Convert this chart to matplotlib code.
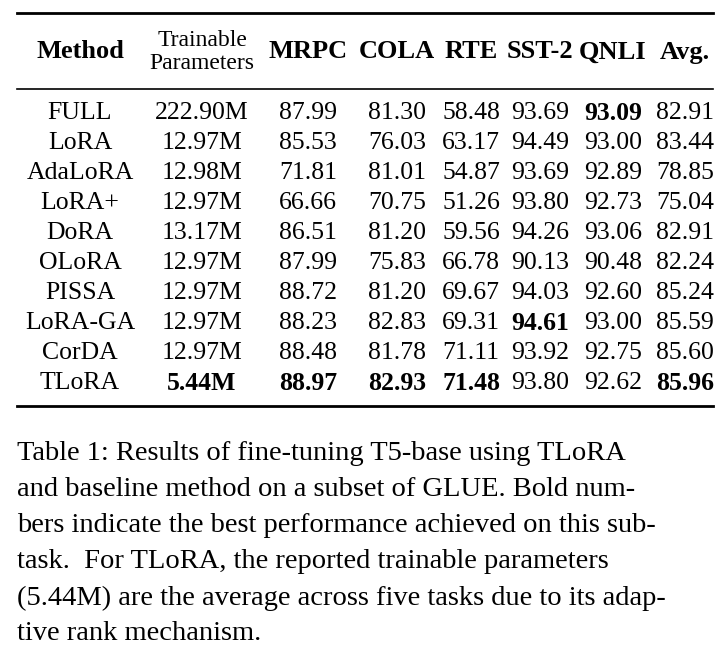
# GLUE results table
import matplotlib.pyplot as plt

plt.rcParams["font.family"] = "Liberation Serif"

cols = ["MRPC", "COLA", "RTE", "SST-2", "QNLI", "Avg."]
rows = [
    ("FULL", "222.90M", [87.99, 81.30, 58.48, 93.69, 93.09, 82.91]),
    ("LoRA", "12.97M", [85.53, 76.03, 63.17, 94.49, 93.00, 83.44]),
    ("AdaLoRA", "12.98M", [71.81, 81.01, 54.87, 93.69, 92.89, 78.85]),
    ("LoRA+", "12.97M", [66.66, 70.75, 51.26, 93.80, 92.73, 75.04]),
    ("DoRA", "13.17M", [86.51, 81.20, 59.56, 94.26, 93.06, 82.91]),
    ("OLoRA", "12.97M", [87.99, 75.83, 66.78, 90.13, 90.48, 82.24]),
    ("PISSA", "12.97M", [88.72, 81.20, 69.67, 94.03, 92.60, 85.24]),
    ("LoRA-GA", "12.97M", [88.23, 82.83, 69.31, 94.61, 93.00, 85.59]),
    ("CorDA", "12.97M", [88.48, 81.78, 71.11, 93.92, 92.75, 85.60]),
    ("TLoRA", "5.44M", [88.97, 82.93, 71.48, 93.80, 92.62, 85.96]),
]
xs = [80, 202, 308, 397, 471, 540, 613, 685]  # column centres, px
caption = [
    "Table 1: Results of fine-tuning T5-base using TLoRA",
    "and baseline method on a subset of GLUE. Bold num-",
    "bers indicate the best performance achieved on this sub-",
    "task.  For TLoRA, the reported trainable parameters",
    "(5.44M) are the average across five tasks due to its adap-",
    "tive rank mechanism.",
]

plt.figure(figsize=(7.28, 6.63), dpi=100)
ax = plt.axes([0, 0, 1, 1])
ax.set_xlim(0, 728)
ax.set_ylim(663, 0)
ax.axis("off")

# rules
ax.plot([17, 713], [13, 13], "k-", lw=2)
ax.plot([17, 713], [89, 89], "k-", lw=1.2)
ax.plot([17, 713], [406, 406], "k-", lw=2)

# header
ax.text(xs[0], 52, "Method", ha="center", va="center", fontsize=19, weight="bold")
ax.text(xs[1], 52, "Trainable\nParameters", ha="center", va="center", fontsize=17,
        linespacing=1.1)
for x, c in zip(xs[2:], cols):
    ax.text(x, 52, c, ha="center", va="center", fontsize=19, weight="bold")

# body, best value per column in bold
best = [max(r[2][j] for r in rows) for j in range(len(cols))]
for i, (name, params, vals) in enumerate(rows):
    y = 113 + i * 30
    ax.text(xs[0], y, name, ha="center", va="center", fontsize=18.5)
    ax.text(xs[1], y, params, ha="center", va="center", fontsize=18.5,
            weight="bold" if name == "TLoRA" else "normal")
    for j, v in enumerate(vals):
        ax.text(xs[j + 2], y, f"{v:.2f}", ha="center", va="center", fontsize=18.5,
                weight="bold" if v == best[j] else "normal")

for k, line in enumerate(caption):
    ax.text(17, 454 + k * 36, line, ha="left", va="center", fontsize=20.5)

plt.savefig("out.png", dpi=100)
